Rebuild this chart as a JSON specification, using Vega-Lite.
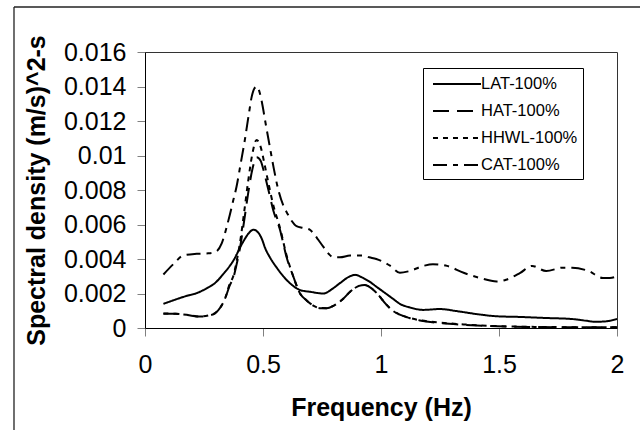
{
  "$schema": "https://vega.github.io/schema/vega-lite/v6.json",
  "width": 472,
  "height": 276,
  "autosize": {"type": "none"},
  "padding": {"left": 145, "top": 52, "right": 23, "bottom": 102},
  "background": "white",
  "config": {
    "view": {"stroke": "#333333", "strokeWidth": 1},
    "font": "Liberation Sans",
    "axis": {
      "grid": false,
      "domainColor": "#000000",
      "domainWidth": 1,
      "tickColor": "#808080",
      "tickSize": 8,
      "labelOverlap": false,
      "labelFont": "Liberation Sans",
      "labelFontSize": 25,
      "labelColor": "#000000",
      "titleFont": "Liberation Sans",
      "titleFontSize": 25,
      "titleFontWeight": "bold",
      "titleColor": "#000000"
    },
    "legend": {
      "labelFont": "Liberation Sans",
      "labelFontSize": 16.5,
      "labelColor": "#000000"
    }
  },
  "datasets": {
    "spectra": [
      {"s": "LAT-100%", "f": 0.078, "v": 0.0014},
      {"s": "LAT-100%", "f": 0.162, "v": 0.0018},
      {"s": "LAT-100%", "f": 0.233, "v": 0.0021},
      {"s": "LAT-100%", "f": 0.261, "v": 0.0023},
      {"s": "LAT-100%", "f": 0.296, "v": 0.0026},
      {"s": "LAT-100%", "f": 0.33, "v": 0.0031},
      {"s": "LAT-100%", "f": 0.374, "v": 0.0039},
      {"s": "LAT-100%", "f": 0.416, "v": 0.0050},
      {"s": "LAT-100%", "f": 0.44, "v": 0.0055},
      {"s": "LAT-100%", "f": 0.459, "v": 0.0057},
      {"s": "LAT-100%", "f": 0.475, "v": 0.0056},
      {"s": "LAT-100%", "f": 0.494, "v": 0.0052},
      {"s": "LAT-100%", "f": 0.51, "v": 0.0046},
      {"s": "LAT-100%", "f": 0.529, "v": 0.0041},
      {"s": "LAT-100%", "f": 0.558, "v": 0.0035},
      {"s": "LAT-100%", "f": 0.586, "v": 0.0030},
      {"s": "LAT-100%", "f": 0.614, "v": 0.0026},
      {"s": "LAT-100%", "f": 0.657, "v": 0.0022},
      {"s": "LAT-100%", "f": 0.699, "v": 0.0021},
      {"s": "LAT-100%", "f": 0.756, "v": 0.0020},
      {"s": "LAT-100%", "f": 0.797, "v": 0.0023},
      {"s": "LAT-100%", "f": 0.826, "v": 0.0026},
      {"s": "LAT-100%", "f": 0.869, "v": 0.0030},
      {"s": "LAT-100%", "f": 0.89, "v": 0.00308},
      {"s": "LAT-100%", "f": 0.924, "v": 0.0029},
      {"s": "LAT-100%", "f": 0.95, "v": 0.0027},
      {"s": "LAT-100%", "f": 0.98, "v": 0.0024},
      {"s": "LAT-100%", "f": 1.02, "v": 0.0020},
      {"s": "LAT-100%", "f": 1.05, "v": 0.0017},
      {"s": "LAT-100%", "f": 1.08, "v": 0.0014},
      {"s": "LAT-100%", "f": 1.12, "v": 0.0012},
      {"s": "LAT-100%", "f": 1.18, "v": 0.00105},
      {"s": "LAT-100%", "f": 1.25, "v": 0.0011},
      {"s": "LAT-100%", "f": 1.32, "v": 0.00098},
      {"s": "LAT-100%", "f": 1.42, "v": 0.00078},
      {"s": "LAT-100%", "f": 1.49, "v": 0.00068},
      {"s": "LAT-100%", "f": 1.59, "v": 0.00064},
      {"s": "LAT-100%", "f": 1.7, "v": 0.00058},
      {"s": "LAT-100%", "f": 1.81, "v": 0.00052},
      {"s": "LAT-100%", "f": 1.87, "v": 0.00042},
      {"s": "LAT-100%", "f": 1.91, "v": 0.00036},
      {"s": "LAT-100%", "f": 1.955, "v": 0.00039},
      {"s": "LAT-100%", "f": 2.0, "v": 0.00052},

      {"s": "HAT-100%", "f": 0.078, "v": 0.00083},
      {"s": "HAT-100%", "f": 0.13, "v": 0.00082},
      {"s": "HAT-100%", "f": 0.176, "v": 0.00076},
      {"s": "HAT-100%", "f": 0.233, "v": 0.00066},
      {"s": "HAT-100%", "f": 0.27, "v": 0.00072},
      {"s": "HAT-100%", "f": 0.297, "v": 0.00085},
      {"s": "HAT-100%", "f": 0.32, "v": 0.0012},
      {"s": "HAT-100%", "f": 0.339, "v": 0.0017},
      {"s": "HAT-100%", "f": 0.36, "v": 0.0025},
      {"s": "HAT-100%", "f": 0.374, "v": 0.0029},
      {"s": "HAT-100%", "f": 0.39, "v": 0.0038},
      {"s": "HAT-100%", "f": 0.402, "v": 0.0046},
      {"s": "HAT-100%", "f": 0.42, "v": 0.0062},
      {"s": "HAT-100%", "f": 0.437, "v": 0.0078},
      {"s": "HAT-100%", "f": 0.455, "v": 0.0092},
      {"s": "HAT-100%", "f": 0.473, "v": 0.0099},
      {"s": "HAT-100%", "f": 0.49, "v": 0.0097},
      {"s": "HAT-100%", "f": 0.505, "v": 0.0090},
      {"s": "HAT-100%", "f": 0.523, "v": 0.0080},
      {"s": "HAT-100%", "f": 0.544, "v": 0.0068},
      {"s": "HAT-100%", "f": 0.572, "v": 0.0057},
      {"s": "HAT-100%", "f": 0.6, "v": 0.0041},
      {"s": "HAT-100%", "f": 0.628, "v": 0.0030},
      {"s": "HAT-100%", "f": 0.657, "v": 0.0020},
      {"s": "HAT-100%", "f": 0.685, "v": 0.0016},
      {"s": "HAT-100%", "f": 0.713, "v": 0.0013},
      {"s": "HAT-100%", "f": 0.74, "v": 0.00115},
      {"s": "HAT-100%", "f": 0.77, "v": 0.00114},
      {"s": "HAT-100%", "f": 0.8, "v": 0.0013},
      {"s": "HAT-100%", "f": 0.84, "v": 0.0017},
      {"s": "HAT-100%", "f": 0.869, "v": 0.0021},
      {"s": "HAT-100%", "f": 0.9, "v": 0.0024},
      {"s": "HAT-100%", "f": 0.93, "v": 0.0025},
      {"s": "HAT-100%", "f": 0.96, "v": 0.0023},
      {"s": "HAT-100%", "f": 0.99, "v": 0.0019},
      {"s": "HAT-100%", "f": 1.02, "v": 0.0014},
      {"s": "HAT-100%", "f": 1.05, "v": 0.0010},
      {"s": "HAT-100%", "f": 1.08, "v": 0.00077},
      {"s": "HAT-100%", "f": 1.12, "v": 0.00058},
      {"s": "HAT-100%", "f": 1.165, "v": 0.00044},
      {"s": "HAT-100%", "f": 1.25, "v": 0.00029},
      {"s": "HAT-100%", "f": 1.35, "v": 0.00019},
      {"s": "HAT-100%", "f": 1.49, "v": 0.0001},
      {"s": "HAT-100%", "f": 1.63, "v": 0.00006},
      {"s": "HAT-100%", "f": 1.77, "v": 0.00004},
      {"s": "HAT-100%", "f": 2.0, "v": 0.00004},

      {"s": "HHWL-100%", "f": 0.078, "v": 0.00084},
      {"s": "HHWL-100%", "f": 0.13, "v": 0.00082},
      {"s": "HHWL-100%", "f": 0.176, "v": 0.00077},
      {"s": "HHWL-100%", "f": 0.233, "v": 0.00067},
      {"s": "HHWL-100%", "f": 0.27, "v": 0.00073},
      {"s": "HHWL-100%", "f": 0.297, "v": 0.00087},
      {"s": "HHWL-100%", "f": 0.32, "v": 0.0012},
      {"s": "HHWL-100%", "f": 0.339, "v": 0.0017},
      {"s": "HHWL-100%", "f": 0.36, "v": 0.0026},
      {"s": "HHWL-100%", "f": 0.374, "v": 0.0030},
      {"s": "HHWL-100%", "f": 0.39, "v": 0.0040},
      {"s": "HHWL-100%", "f": 0.402, "v": 0.0049},
      {"s": "HHWL-100%", "f": 0.42, "v": 0.0067},
      {"s": "HHWL-100%", "f": 0.437, "v": 0.0085},
      {"s": "HHWL-100%", "f": 0.455, "v": 0.0101},
      {"s": "HHWL-100%", "f": 0.473, "v": 0.0109},
      {"s": "HHWL-100%", "f": 0.49, "v": 0.0105},
      {"s": "HHWL-100%", "f": 0.505, "v": 0.0096},
      {"s": "HHWL-100%", "f": 0.523, "v": 0.0084},
      {"s": "HHWL-100%", "f": 0.544, "v": 0.0071},
      {"s": "HHWL-100%", "f": 0.572, "v": 0.0058},
      {"s": "HHWL-100%", "f": 0.6, "v": 0.0042},
      {"s": "HHWL-100%", "f": 0.628, "v": 0.0030},
      {"s": "HHWL-100%", "f": 0.657, "v": 0.0020},
      {"s": "HHWL-100%", "f": 0.685, "v": 0.0016},
      {"s": "HHWL-100%", "f": 0.713, "v": 0.0013},
      {"s": "HHWL-100%", "f": 0.74, "v": 0.00116},
      {"s": "HHWL-100%", "f": 0.77, "v": 0.00115},
      {"s": "HHWL-100%", "f": 0.8, "v": 0.0013},
      {"s": "HHWL-100%", "f": 0.84, "v": 0.0017},
      {"s": "HHWL-100%", "f": 0.869, "v": 0.0021},
      {"s": "HHWL-100%", "f": 0.9, "v": 0.0024},
      {"s": "HHWL-100%", "f": 0.93, "v": 0.0025},
      {"s": "HHWL-100%", "f": 0.96, "v": 0.0023},
      {"s": "HHWL-100%", "f": 0.99, "v": 0.0019},
      {"s": "HHWL-100%", "f": 1.02, "v": 0.0014},
      {"s": "HHWL-100%", "f": 1.05, "v": 0.0010},
      {"s": "HHWL-100%", "f": 1.08, "v": 0.00078},
      {"s": "HHWL-100%", "f": 1.12, "v": 0.00059},
      {"s": "HHWL-100%", "f": 1.165, "v": 0.00045},
      {"s": "HHWL-100%", "f": 1.25, "v": 0.00031},
      {"s": "HHWL-100%", "f": 1.35, "v": 0.00021},
      {"s": "HHWL-100%", "f": 1.49, "v": 0.00011},
      {"s": "HHWL-100%", "f": 1.63, "v": 0.00007},
      {"s": "HHWL-100%", "f": 1.77, "v": 0.00005},
      {"s": "HHWL-100%", "f": 2.0, "v": 0.00005},

      {"s": "CAT-100%", "f": 0.078, "v": 0.0031},
      {"s": "CAT-100%", "f": 0.12, "v": 0.0037},
      {"s": "CAT-100%", "f": 0.162, "v": 0.0042},
      {"s": "CAT-100%", "f": 0.219, "v": 0.0043},
      {"s": "CAT-100%", "f": 0.268, "v": 0.00433},
      {"s": "CAT-100%", "f": 0.297, "v": 0.0044},
      {"s": "CAT-100%", "f": 0.325, "v": 0.0049},
      {"s": "CAT-100%", "f": 0.345, "v": 0.0058},
      {"s": "CAT-100%", "f": 0.36, "v": 0.0066},
      {"s": "CAT-100%", "f": 0.374, "v": 0.0074},
      {"s": "CAT-100%", "f": 0.388, "v": 0.0082},
      {"s": "CAT-100%", "f": 0.405, "v": 0.0095},
      {"s": "CAT-100%", "f": 0.423, "v": 0.0109},
      {"s": "CAT-100%", "f": 0.44, "v": 0.0124},
      {"s": "CAT-100%", "f": 0.452, "v": 0.0134},
      {"s": "CAT-100%", "f": 0.464, "v": 0.0139},
      {"s": "CAT-100%", "f": 0.473, "v": 0.0140},
      {"s": "CAT-100%", "f": 0.487, "v": 0.0136},
      {"s": "CAT-100%", "f": 0.498, "v": 0.0129},
      {"s": "CAT-100%", "f": 0.508, "v": 0.0121},
      {"s": "CAT-100%", "f": 0.529, "v": 0.0105},
      {"s": "CAT-100%", "f": 0.545, "v": 0.0093},
      {"s": "CAT-100%", "f": 0.565, "v": 0.0080},
      {"s": "CAT-100%", "f": 0.586, "v": 0.0071},
      {"s": "CAT-100%", "f": 0.605, "v": 0.0066},
      {"s": "CAT-100%", "f": 0.622, "v": 0.0062},
      {"s": "CAT-100%", "f": 0.642, "v": 0.0059},
      {"s": "CAT-100%", "f": 0.671, "v": 0.0058},
      {"s": "CAT-100%", "f": 0.698, "v": 0.0057},
      {"s": "CAT-100%", "f": 0.713, "v": 0.0055},
      {"s": "CAT-100%", "f": 0.735, "v": 0.0051},
      {"s": "CAT-100%", "f": 0.756, "v": 0.0047},
      {"s": "CAT-100%", "f": 0.778, "v": 0.0043},
      {"s": "CAT-100%", "f": 0.798, "v": 0.0041},
      {"s": "CAT-100%", "f": 0.826, "v": 0.0041},
      {"s": "CAT-100%", "f": 0.869, "v": 0.0042},
      {"s": "CAT-100%", "f": 0.924, "v": 0.0042},
      {"s": "CAT-100%", "f": 0.95, "v": 0.0041},
      {"s": "CAT-100%", "f": 0.98, "v": 0.0040},
      {"s": "CAT-100%", "f": 1.04, "v": 0.0036},
      {"s": "CAT-100%", "f": 1.08, "v": 0.0032},
      {"s": "CAT-100%", "f": 1.12, "v": 0.0033},
      {"s": "CAT-100%", "f": 1.18, "v": 0.0036},
      {"s": "CAT-100%", "f": 1.22, "v": 0.0037},
      {"s": "CAT-100%", "f": 1.28, "v": 0.0036},
      {"s": "CAT-100%", "f": 1.35, "v": 0.0032},
      {"s": "CAT-100%", "f": 1.42, "v": 0.0029},
      {"s": "CAT-100%", "f": 1.49, "v": 0.0027},
      {"s": "CAT-100%", "f": 1.53, "v": 0.0028},
      {"s": "CAT-100%", "f": 1.59, "v": 0.0032},
      {"s": "CAT-100%", "f": 1.64, "v": 0.0036},
      {"s": "CAT-100%", "f": 1.7, "v": 0.0033},
      {"s": "CAT-100%", "f": 1.77, "v": 0.0035},
      {"s": "CAT-100%", "f": 1.81, "v": 0.0035},
      {"s": "CAT-100%", "f": 1.88, "v": 0.0033},
      {"s": "CAT-100%", "f": 1.94, "v": 0.0029},
      {"s": "CAT-100%", "f": 1.97, "v": 0.0029},
      {"s": "CAT-100%", "f": 2.0, "v": 0.0030}
    ]
  },
  "layer": [
    {
      "data": {"name": "spectra"},
      "mark": {"type": "line", "interpolate": "monotone", "strokeWidth": 2, "color": "#000000", "clip": true},
      "encoding": {
        "x": {
          "field": "f", "type": "quantitative",
          "scale": {"domain": [0, 2], "nice": false, "zero": false},
          "axis": {"values": [0, 0.5, 1, 1.5, 2], "tickCount": 20, "format": "~g", "labelPadding": 16, "labelOverlap": false, "labelFlush": false, "title": "Frequency (Hz)", "titlePadding": 18}
        },
        "y": {
          "field": "v", "type": "quantitative",
          "scale": {"domain": [0, 0.016], "nice": false},
          "axis": {"values": [0, 0.002, 0.004, 0.006, 0.008, 0.01, 0.012, 0.014, 0.016], "tickCount": 20, "format": ".3~f", "labelPadding": 11, "labelOverlap": false, "labelFlush": false, "labelBound": false, "title": "Spectral density (m/s)^2-s", "titlePadding": 14}
        },
        "strokeDash": {
          "field": "s", "type": "nominal",
          "scale": {
            "domain": ["LAT-100%", "HAT-100%", "HHWL-100%", "CAT-100%"],
            "range": [[1, 0], [16, 8], [5, 5], [14, 6, 5, 6]]
          },
          "legend": {
            "title": null,
            "orient": "none",
            "legendX": 278,
            "legendY": 16,
            "symbolType": "M-2.4,0H2.4",
            "symbolSize": 400,
            "symbolOffset": 18,
            "symbolStrokeWidth": 2,
            "symbolStrokeColor": "#000000",
            "labelOffset": 13,
            "rowPadding": 7,
            "padding": 5,
            "strokeColor": "#000000",
            "fillColor": "#ffffff"
          }
        }
      }
    },
    {
      "data": {"values": [{}]},
      "mark": {"type": "rule", "color": "#222222", "strokeWidth": 1.3, "clip": false},
      "encoding": {
        "x": {"datum": -0.5551},
        "x2": {"datum": 2.2},
        "y": {"datum": 0.01861}
      }
    },
    {
      "data": {"values": [{}]},
      "mark": {"type": "rule", "color": "#222222", "strokeWidth": 1.3, "clip": false},
      "encoding": {
        "x": {"datum": -0.5551},
        "y": {"datum": -0.01},
        "y2": {"datum": 0.01861}
      }
    }
  ]
}
